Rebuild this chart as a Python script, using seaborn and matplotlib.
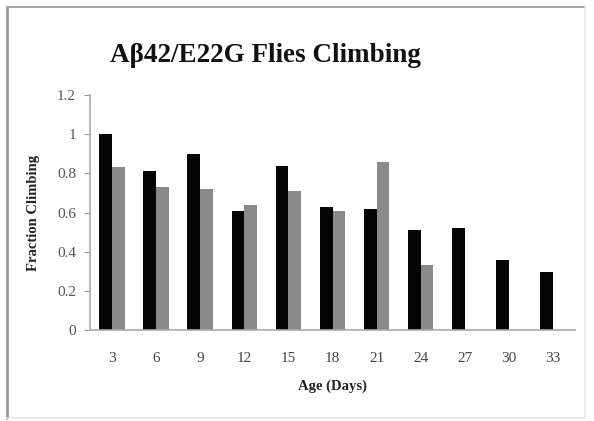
import matplotlib
matplotlib.use("Agg")
import matplotlib.pyplot as plt
import seaborn as sns
import pandas as pd
import numpy as np
from matplotlib.lines import Line2D

ages = ["3", "6", "9", "12", "15", "18", "21", "24", "27", "30", "33"]
series_a = [1.00, 0.81, 0.90, 0.61, 0.84, 0.63, 0.62, 0.51, 0.52, 0.355, 0.295]
series_b = [0.83, 0.73, 0.72, 0.64, 0.71, 0.61, 0.86, 0.33, np.nan, np.nan, np.nan]
series_names = ["Series A", "Series B"]
yticks = [0, 0.2, 0.4, 0.6, 0.8, 1.0, 1.2]
yticklabels = ["0", "0.2", "0.4", "0.6", "0.8", "1", "1.2"]

df = pd.DataFrame({
    "Age": ages * 2,
    "Fraction": series_a + series_b,
    "Series": [series_names[0]] * len(ages) + [series_names[1]] * len(ages),
})

sns.set_theme(style="white")
plt.rcParams["font.family"] = ["Liberation Serif", "DejaVu Serif"]

fig = plt.figure(figsize=(5.94, 4.21), dpi=100)
ax = fig.add_axes([90/594, 1-330/421, (575-90)/594, (330-95)/421])

sns.barplot(data=df, x="Age", y="Fraction", hue="Series", order=ages,
            palette=["#050505", "#8a8a8a"], width=0.58, ax=ax,
            legend=False, saturation=1)
for p in ax.patches:
    p.set_edgecolor("none")

ax.set_ylim(0, 1.2)
ax.set_xlim(-0.5, 10.5)
ax.set_yticks(yticks)
ax.set_yticklabels(yticklabels)
ax.tick_params(axis="y", which="both", left=True, length=4, width=0.8,
               color="#999999", labelsize=11, labelcolor="#555555", pad=6)
ax.tick_params(axis="x", bottom=False, labelsize=11, labelcolor="#444444", pad=10)
for s in ["top", "right"]:
    ax.spines[s].set_visible(False)
for s in ["left", "bottom"]:
    ax.spines[s].set_color("#aaaaaa")
    ax.spines[s].set_linewidth(1.2)

ax.set_xlabel("Age (Days)", fontsize=10.5, fontweight="bold", color="#222222", labelpad=10)
ax.set_ylabel("Fraction Climbing", fontsize=10.5, fontweight="bold", color="#222222", labelpad=12)

fig.text(265/594, 1-55/421, "Aβ42/E22G Flies Climbing", ha="center", va="center",
         fontsize=19.5, fontweight="bold", color="#111111")

def fx(px):
    return px / 594

def fy(py):
    return 1 - py / 421

fig.lines.append(Line2D([fx(7), fx(7)], [fy(7), fy(418)], transform=fig.transFigure,
                        color="#999999", linewidth=2))
fig.lines.append(Line2D([fx(7), fx(585)], [fy(7), fy(7)], transform=fig.transFigure,
                        color="#a8a8a8", linewidth=1.5))
fig.lines.append(Line2D([fx(585), fx(585)], [fy(7), fy(418)], transform=fig.transFigure,
                        color="#e6e6e6", linewidth=1.2))
fig.lines.append(Line2D([fx(7), fx(585)], [fy(418), fy(418)], transform=fig.transFigure,
                        color="#e6e6e6", linewidth=1.2))

fig.savefig("out.png", dpi=100)
